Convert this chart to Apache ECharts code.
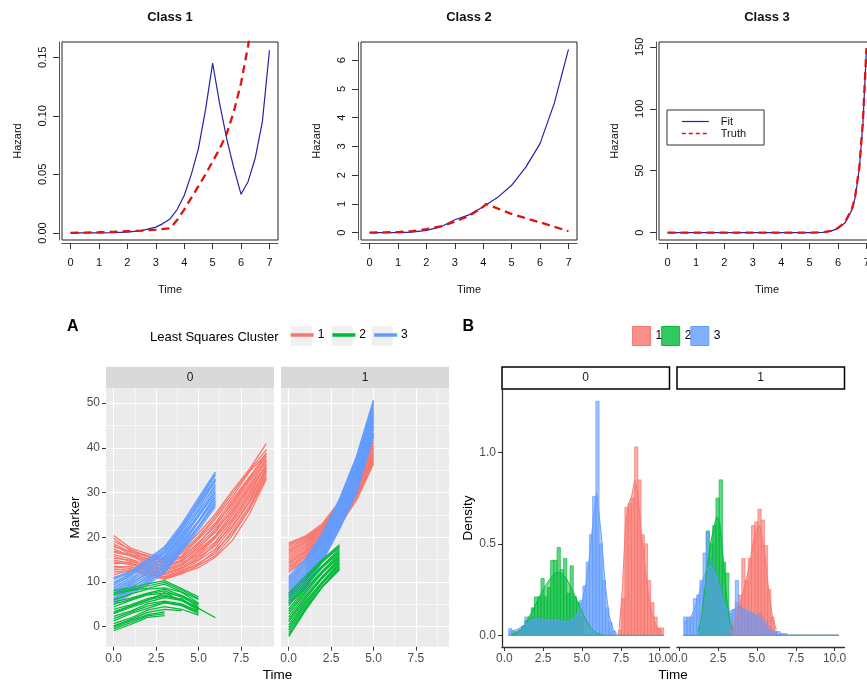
<!DOCTYPE html>
<html><head><meta charset="utf-8"><title>Hazard fits and cluster panels</title>
<script src="https://cdn.jsdelivr.net/npm/echarts@6.0.0/dist/echarts.min.js"></script>
<style>html,body{margin:0;padding:0;background:#fff;}#chart{width:867px;height:684px;}</style>
</head><body><div id="chart"></div>
<script>
// ================= Top row: hazard curves =================
const hazardTicksX = [0, 1, 2, 3, 4, 5, 6, 7];
const class1TicksY = [0, 0.05, 0.10, 0.15];
const class2TicksY = [0, 1, 2, 3, 4, 5, 6];
const class3TicksY = [0, 50, 100, 150];

const class1FitTime = [0,0.5,1,1.5,2,2.5,3,3.25,3.5,3.75,4,4.25,4.5,4.75,5,5.25,5.5,5.75,6,6.25,6.5,6.75,7];
const class1Fit     = [0,0,0,0.0003,0.0008,0.002,0.005,0.008,0.012,0.02,0.032,0.05,0.072,0.105,0.145,0.11,0.08,0.055,0.033,0.044,0.064,0.095,0.156];
const class1TruthTime = [0,0.5,1,1.5,2,2.5,3,3.5,3.75,4,4.25,4.5,4.75,5,5.25,5.5,5.75,6,6.25,6.5];
const class1Truth     = [0,0.0003,0.0006,0.001,0.0015,0.002,0.0028,0.004,0.011,0.02,0.03,0.04,0.05,0.061,0.072,0.085,0.104,0.128,0.16,0.2];

const class2FitTime = [0,0.5,1,1.5,2,2.5,3,3.5,4,4.5,5,5.5,6,6.5,7];
const class2Fit     = [0,0,0,0.02,0.08,0.2,0.45,0.62,0.9,1.22,1.65,2.28,3.1,4.5,6.38];
const class2TruthTime = [0,0.5,1,1.5,2,2.5,3,3.5,4,4.1,5,6,7];
const class2Truth     = [0,0.01,0.02,0.05,0.12,0.22,0.38,0.58,0.9,1.0,0.65,0.36,0.05];

const class3Time  = [0,1,2,3,4,5,5.5,5.75,6,6.25,6.5,6.6,6.75,6.875,7];
const class3Fit   = [0,0,0,0,0,0,0.3,1.2,3.5,8,19,28,52,88,148];
const class3Truth = [0,0,0,0,0,0,0.4,1.4,3.8,8.5,20,29,53,90,149];

// ================= Panel A: marker trajectories =================
const aTicksX = [0, 2.5, 5, 7.5];
const aMinorX = [1.25, 3.75, 6.25, 8.75];
const aTicksY = [0, 10, 20, 30, 40, 50];
const aMinorY = [5, 15, 25, 35, 45];
const aTimes = [0, 1, 2, 3, 4, 5, 6, 7, 8, 9];

const a0Cluster1 = [
 [20.4,17.6,16.3,15.4,17.2,20.9,25.2,30.4,35.2,41.0],
 [19.8,17.0,15.9,15.0,16.8,20.2,24.6,29.8,34.9,39.6],
 [19.1,17.3,15.6,15.1,16.4,19.8,24.1,29.1,34.6,38.6],
 [18.6,16.6,15.7,14.6,15.8,19.6,23.2,28.4,33.5,38.2],
 [18.2,16.2,15.2,14.1,15.3,18.9,22.4,27.9,33.2,38.9],
 [17.9,16.8,14.9,14.4,15.6,18.6,22.9,27.4,32.9,37.8],
 [17.4,15.8,14.8,13.6,14.9,18.3,21.8,26.9,32.4,37.3],
 [16.9,16.2,14.5,13.2,14.4,17.9,21.1,26.3,31.7,36.9],
 [16.6,15.9,14.1,13.5,14.7,17.5,21.6,25.8,31.2,37.1],
 [16.1,15.1,13.9,12.8,14.0,17.1,20.4,25.4,30.8,36.2],
 [15.7,14.6,13.6,12.4,13.6,16.7,20.1,24.9,30.2,35.9],
 [15.3,14.9,13.2,12.7,13.9,16.2,19.9,24.2,29.6,36.4],
 [14.9,14.2,13.1,12.0,13.2,15.9,19.0,23.8,29.2,35.3],
 [14.5,13.9,12.8,11.6,12.8,15.5,18.1,23.3,28.6,34.9],
 [14.1,14.3,12.4,11.9,13.1,15.0,18.6,22.6,28.0,35.6],
 [13.5,13.4,12.5,11.2,12.4,14.8,17.4,22.3,27.7,34.4],
 [13.1,13.5,11.8,11.1,12.5,13.9,17.0,20.9,26.4,34.8],
 [12.7,13.0,12.1,11.0,12.2,14.2,16.4,21.6,26.9,33.8],
 [12.2,12.6,11.9,10.6,11.8,13.7,15.9,20.4,26.2,33.4],
 [11.6,12.7,11.3,10.7,12.0,13.2,15.6,19.3,25.2,33.0]
];
const a0Cluster3 = [
 [11.0,12.4,15.1,17.9,22.9,28.8,34.6],
 [10.8,12.0,14.8,17.6,22.0,28.3,34.2],
 [10.5,12.3,14.4,17.2,22.5,27.9,33.9],
 [9.9,11.9,13.9,16.6,21.9,27.1,32.9],
 [9.7,11.6,14.2,16.8,21.7,27.5,33.1],
 [9.3,11.3,13.5,16.4,21.3,26.5,32.6],
 [8.8,10.9,12.8,15.9,20.8,25.7,31.9],
 [8.5,10.5,13.1,15.6,20.5,26.0,31.4],
 [8.1,10.2,12.4,15.3,20.1,25.1,30.9],
 [7.8,9.8,11.8,14.8,19.7,24.9,30.3],
 [7.4,9.5,12.1,14.5,19.3,24.6,29.9],
 [7.1,9.2,11.4,14.1,18.9,23.7,29.4],
 [6.8,8.9,10.7,13.8,18.5,23.5,29.0],
 [6.4,8.5,11.1,13.4,18.1,23.3,28.5],
 [6.1,8.2,10.4,13.1,17.8,22.5,28.1],
 [5.8,7.9,9.8,12.7,17.4,22.4,27.8],
 [5.5,7.5,10.1,12.4,17.1,22.2,27.4],
 [5.0,7.2,9.4,12.1,16.8,21.6,26.9]
];
const a0Cluster2 = [
 [8.1,8.7,9.6,10.3,8.5,6.7],
 [7.6,8.3,9.1,9.9,8.2,6.3],
 [7.1,8.1,8.6,9.5,7.8,6.1],
 [6.0,7.3,8.4,8.7,7.7,5.3],
 [5.5,6.4,7.5,8.4,7.0,5.1],
 [5.0,6.1,7.3,8.0,6.6,4.8],
 [4.4,5.9,7.1,7.5,6.9,4.4],
 [3.9,4.9,6.3,7.1,6.0,4.3],
 [3.4,4.6,6.0,6.8,6.2,4.0],
 [2.9,4.3,5.5,6.5,5.9,3.7],
 [2.3,3.5,5.1,5.7,5.1,3.5],
 [1.8,3.2,4.6,5.5,4.9,3.2],
 [1.3,2.9,4.1,5.3,4.7,2.9],
 [0.7,1.9,3.7,4.5,3.9,2.6],
 [0.2,1.6,3.2,3.9,3.6],
 [-0.1,1.3,2.7,3.3],
 [-0.5,0.9,2.4,2.9],
 [-0.9,0.5,2.1,2.5],
 [3.1,4.6,5.9,7.6,5.8,4.1,2.0]
];
const a1Cluster1 = [
 [18.7,20.3,23.1,28.1,35.2,43.3],
 [18.4,20.0,22.8,27.8,34.8,42.8],
 [18.1,19.7,22.5,27.6,34.3,42.2],
 [17.7,19.4,22.3,26.9,33.9,41.7],
 [17.3,19.1,22.0,26.7,33.5,41.2],
 [16.9,18.8,21.7,26.6,33.1,40.7],
 [16.5,18.5,21.5,25.9,32.7,40.4],
 [16.1,18.1,21.2,25.7,32.3,40.0],
 [15.7,17.8,20.9,25.6,31.9,39.6],
 [15.3,17.5,20.7,24.9,31.5,39.2],
 [14.9,17.1,20.4,24.7,31.1,38.8],
 [14.5,16.8,20.1,24.6,30.7,38.4],
 [14.1,16.5,19.9,23.9,30.3,38.1],
 [13.7,16.1,19.6,23.7,29.9,37.8],
 [13.3,15.8,19.3,23.6,29.5,37.4],
 [12.9,15.5,19.1,22.9,29.1,37.1],
 [12.5,15.1,18.8,22.8,28.7,36.7],
 [12.1,14.8,18.5,22.6,28.3,36.4]
];
const a1Cluster3 = [
 [11.2,15.1,21.0,28.6,38.1,50.7],
 [10.8,14.7,20.7,28.2,37.6,50.3],
 [10.5,14.3,20.4,27.9,37.2,49.9],
 [10.1,13.9,19.9,27.3,36.7,49.3],
 [9.7,13.5,19.5,26.9,36.2,48.8],
 [9.4,13.1,19.2,26.6,35.7,48.3],
 [9.0,12.7,18.8,26.1,35.1,47.8],
 [8.6,12.3,18.4,25.7,34.6,47.3],
 [8.3,11.9,18.1,25.4,34.2,46.9],
 [7.9,11.5,17.7,24.9,33.7,46.4],
 [7.5,11.1,17.3,24.5,33.2,45.9],
 [7.2,10.7,16.9,24.2,32.7,45.5],
 [6.8,10.3,16.5,23.7,32.1,44.9],
 [6.4,9.9,16.1,23.3,31.6,44.5],
 [6.1,9.5,15.8,23.0,31.2,44.1],
 [5.6,9.1,15.3,22.5,30.6,43.3],
 [5.3,8.7,15.0,22.1,30.2,42.9],
 [5.0,8.4,14.7,21.8,29.9,42.5]
];
const a1Cluster2 = [
 [7.5,11.3,15.1,18.3],
 [7.0,10.8,14.8,18.0],
 [6.5,10.4,14.5,17.7],
 [5.8,9.9,13.7,17.3],
 [5.2,9.4,13.5,16.9],
 [4.7,9.0,13.3,16.6],
 [4.0,8.5,12.5,16.3],
 [3.5,8.0,12.3,15.9],
 [2.9,7.6,12.1,15.6],
 [2.2,7.1,11.3,15.3],
 [1.6,6.6,11.1,15.0],
 [1.1,6.2,10.9,14.6],
 [0.4,5.7,10.1,14.3],
 [-0.2,5.3,9.9,14.0],
 [-0.7,4.8,9.7,13.6],
 [-1.3,4.4,9.1,13.3],
 [-1.8,4.0,9.0,13.0],
 [-2.2,3.7,9.0,12.7]
];

// ================= Panel B: histograms + densities =================
const bTicksX = [0, 2.5, 5, 7.5, 10];
const bTicksY = [0, 0.5, 1.0];
const bBinStart = 0.28;
const bBinWidth = 0.208;
// 48 bins per group and facet (density heights)
const bF0Cluster1 = [0,0,0,0,0,0,0,0,0,0, 0,0,0,0,0,0,0,0,0,0, 0,0,0,0,0,0,0,0,0,0, 0,0,0,0,0.03,0.2,0.7,0.72,0.75,1.03, 0.85,0.55,0.5,0.3,0.18,0.1,0.04,0.04];
const bF0Cluster2 = [0,0.02,0.02,0.03,0.05,0.08,0.1,0.15,0.21,0.21, 0.31,0.21,0.26,0.41,0.41,0.48,0.36,0.42,0.23,0.38, 0.21,0.18,0.1,0,0,0,0,0,0,0, 0,0,0,0,0,0,0,0,0,0, 0,0,0,0,0,0,0,0];
const bF0Cluster3 = [0.036,0,0,0.02,0.036,0.1,0.07,0.1,0.09,0.1, 0.07,0.09,0.08,0.09,0.07,0.09,0.08,0.07,0.1,0.08, 0.09,0.12,0.19,0.27,0.4,0.55,0.76,1.28,0.5,0.3, 0.15,0.07,0.02,0,0,0,0,0,0,0, 0,0,0,0,0,0,0,0];
const bF1Cluster1 = [0,0,0,0,0,0,0,0,0,0, 0,0,0,0,0.02,0.05,0.18,0.22,0.42,0.3, 0.42,0.6,0.62,0.69,0.63,0.49,0.25,0.1,0.02,0, 0,0,0,0,0,0,0,0,0,0, 0,0,0,0,0,0,0,0];
const bF1Cluster2 = [0,0,0,0,0,0.05,0.25,0.57,0.5,0.6, 0.75,0.85,0.4,0.34,0,0,0,0,0,0, 0,0,0,0,0,0,0,0,0,0, 0,0,0,0,0,0,0,0,0,0, 0,0,0,0,0,0,0,0];
const bF1Cluster3 = [0.1,0.1,0.1,0.2,0.22,0.3,0.45,0.57,0.42,0.38, 0.33,0.28,0.2,0.15,0.12,0.14,0.3,0.16,0.14,0.13, 0.12,0.12,0.11,0.12,0.1,0.08,0.05,0.03,0.02,0.02, 0.01,0.01,0,0,0,0,0,0,0,0, 0,0,0,0,0,0,0,0];

const bDensF0C1x = [7.4,7.6,7.8,8.0,8.2,8.4,8.5,8.6,8.8,9.0,9.2,9.4,9.6,9.8,10.0,10.15];
const bDensF0C1y = [0.04,0.25,0.6,0.72,0.76,0.85,0.86,0.78,0.58,0.42,0.27,0.16,0.09,0.05,0.03,0.02];
const bDensF0C2x = [0.5,0.75,1.0,1.25,1.5,1.75,2.0,2.25,2.5,2.75,3.0,3.25,3.5,3.75,4.0,4.25,4.5,4.75,5.0,5.25,5.5,5.75,6.0,6.25];
const bDensF0C2y = [0.005,0.01,0.025,0.05,0.085,0.125,0.165,0.21,0.25,0.285,0.315,0.34,0.345,0.335,0.31,0.27,0.225,0.18,0.13,0.085,0.05,0.025,0.01,0.004];
const bDensF0C3x = [0.34,0.5,0.75,1.0,1.25,1.5,1.75,2.0,2.25,2.5,2.75,3.0,3.25,3.5,3.75,4.0,4.25,4.5,4.75,5.0,5.25,5.5,5.75,5.95,6.25,6.5,6.75,7.0,7.25];
const bDensF0C3y = [0.02,0.025,0.03,0.04,0.055,0.07,0.08,0.088,0.09,0.088,0.083,0.082,0.085,0.082,0.075,0.075,0.08,0.095,0.125,0.18,0.28,0.44,0.65,0.78,0.55,0.28,0.11,0.035,0.01];
const bDensF1C1x = [3.2,3.5,3.75,4.0,4.25,4.5,4.75,5.0,5.15,5.25,5.5,5.75,6.0,6.25];
const bDensF1C1y = [0.02,0.06,0.13,0.2,0.28,0.38,0.5,0.58,0.6,0.58,0.45,0.25,0.1,0.03];
const bDensF1C2x = [1.2,1.4,1.6,1.8,2.0,2.2,2.4,2.5,2.6,2.8,3.0,3.2,3.4];
const bDensF1C2y = [0.02,0.08,0.22,0.38,0.5,0.58,0.65,0.66,0.62,0.45,0.25,0.1,0.03];
const bDensF1C3x = [0.3,0.5,0.75,1.0,1.25,1.5,1.75,2.0,2.25,2.5,2.75,3.0,3.25,3.5,3.75,4.0,4.25,4.5,4.75,5.0,5.25,5.5,5.75,6.0,6.25,6.5,6.85];
const bDensF1C3y = [0.07,0.08,0.1,0.15,0.22,0.3,0.36,0.38,0.35,0.28,0.2,0.15,0.13,0.14,0.155,0.15,0.14,0.13,0.12,0.1,0.08,0.055,0.03,0.015,0.007,0.003,0];

// ================= Build chart =================
const FONT = "'Liberation Sans', Arial, Helvetica, sans-serif";
const RED = '#F8766D', GREEN = '#00BA38', BLUE = '#619CFF';
function rgba(hex, a) {
  const n = parseInt(hex.slice(1), 16);
  return 'rgba(' + (n >> 16 & 255) + ',' + (n >> 8 & 255) + ',' + (n & 255) + ',' + a + ')';
}
function pairs(xs, ys) { return xs.map((x, i) => [x, ys[i]]); }

function rX(g) {
  return {gridIndex: g, type: 'value', min: -0.3, max: 7.3, offset: 3,
    axisLine: {show: true, onZero: false, lineStyle: {color: '#555', width: 1}}, splitLine: {show: false},
    axisTick: {show: true, inside: false, length: 6, lineStyle: {color: '#333', width: 1}, customValues: hazardTicksX},
    axisLabel: {customValues: hazardTicksX, margin: 14, fontSize: 11, color: '#111', fontFamily: FONT},
    name: 'Time', nameLocation: 'middle', nameGap: 41,
    nameTextStyle: {fontSize: 11, color: '#111', fontFamily: FONT}};
}
function rY(g, min, max, ticks, fmt) {
  return {gridIndex: g, type: 'value', min: min, max: max, offset: 3,
    axisLine: {show: true, onZero: false, lineStyle: {color: '#555', width: 1}}, splitLine: {show: false},
    axisTick: {show: true, inside: false, length: 6, lineStyle: {color: '#333', width: 1}, customValues: ticks},
    axisLabel: {customValues: ticks, rotate: 90, margin: 11, fontSize: 11, color: '#111', fontFamily: FONT, formatter: fmt},
    name: 'Hazard', nameLocation: 'middle', nameGap: 36,
    nameTextStyle: {fontSize: 11, color: '#111', fontFamily: FONT}};
}
function aX(g) {
  return {gridIndex: g, type: 'value', min: -0.45, max: 9.45,
    axisLine: {show: false, onZero: false},
    splitLine: {show: true, lineStyle: {color: '#FFFFFF', width: 1.1}},
    axisTick: {show: true, inside: false, length: 4, lineStyle: {color: '#333'}, customValues: aTicksX},
    axisLabel: {customValues: aTicksX, margin: 6, fontSize: 12, color: '#4D4D4D', fontFamily: FONT,
      formatter: v => v.toFixed(1)}};
}
function aXMinor(g) {
  return {gridIndex: g, type: 'value', min: -0.45, max: 9.45, position: 'top',
    axisLine: {show: false, onZero: false}, axisLabel: {show: false},
    axisTick: {show: false, customValues: aMinorX},
    splitLine: {show: true, lineStyle: {color: '#FFFFFF', width: 0.55}}};
}
function aY(g, withLabels) {
  return {gridIndex: g, type: 'value', min: -4.47, max: 53.3,
    axisLine: {show: false, onZero: false},
    splitLine: {show: true, lineStyle: {color: '#FFFFFF', width: 1.1}},
    axisTick: {show: withLabels, inside: false, length: 4, lineStyle: {color: '#333'}, customValues: aTicksY},
    axisLabel: {show: withLabels, customValues: aTicksY, margin: 6, fontSize: 12, color: '#4D4D4D', fontFamily: FONT},
    name: withLabels ? 'Marker' : '', nameLocation: 'middle', nameGap: 24,
    nameTextStyle: {fontSize: 13.5, color: '#000', fontFamily: FONT}};
}
function aYMinor(g) {
  return {gridIndex: g, type: 'value', min: -4.47, max: 53.3, position: 'right',
    axisLine: {show: false, onZero: false}, axisLabel: {show: false},
    axisTick: {show: false, customValues: aMinorY},
    splitLine: {show: true, lineStyle: {color: '#FFFFFF', width: 0.55}}};
}
function bX(g) {
  return {gridIndex: g, type: 'value', min: -0.15, max: 10.64,
    axisLine: {show: true, onZero: false, lineStyle: {color: '#333', width: 1.3}},
    splitLine: {show: false},
    axisTick: {show: true, inside: false, length: 4, lineStyle: {color: '#333'}, customValues: bTicksX},
    axisLabel: {customValues: bTicksX, margin: 6, fontSize: 12, color: '#4D4D4D', fontFamily: FONT,
      formatter: v => v.toFixed(1)}};
}
function bY(g, withAxis) {
  return {gridIndex: g, type: 'value', min: -0.064, max: 1.347,
    axisLine: {show: withAxis, onZero: false, lineStyle: {color: '#333', width: 1.3}},
    splitLine: {show: false},
    axisTick: {show: withAxis, inside: false, length: 4, lineStyle: {color: '#333'}, customValues: bTicksY},
    axisLabel: {show: withAxis, customValues: bTicksY, margin: 6, fontSize: 12, color: '#4D4D4D', fontFamily: FONT,
      formatter: v => v.toFixed(1)},
    name: withAxis ? 'Density' : '', nameLocation: 'middle', nameGap: 27,
    nameTextStyle: {fontSize: 13.5, color: '#000', fontFamily: FONT}};
}

function hazardSeries(idx, fitT, fit, truthT, truth) {
  return [
    {name: 'Fit', type: 'line', xAxisIndex: idx, yAxisIndex: idx, data: pairs(fitT, fit),
     symbol: 'none', silent: true, itemStyle: {color: '#2424A8'}, lineStyle: {color: '#2424A8', width: 1.2}, z: 3},
    {name: 'Truth', type: 'line', xAxisIndex: idx, yAxisIndex: idx, data: pairs(truthT, truth),
     symbol: 'none', silent: true, itemStyle: {color: '#E01212'}, lineStyle: {color: '#E01212', width: 2.3, type: [8, 5]}, z: 4}
  ];
}
function trajSeries(name, idx, lines, color) {
  return {name: name, type: 'lines', coordinateSystem: 'cartesian2d', xAxisIndex: idx, yAxisIndex: idx,
    polyline: true, silent: true, z: 3,
    lineStyle: {color: color, width: 1.25, opacity: 1},
    data: lines.map(v => ({coords: v.map((y, i) => [aTimes[i], y])}))};
}
function histSeries(name, idx, heights, color) {
  const fill = rgba(color, 0.6), stroke = rgba(color, 0.85);
  return {name: name, type: 'custom', coordinateSystem: 'cartesian2d', xAxisIndex: idx, yAxisIndex: idx,
    silent: true, z: 2, itemStyle: {color: fill},
    data: heights.map((h, k) => [bBinStart + k * bBinWidth, bBinStart + (k + 1) * bBinWidth, h]),
    encode: {x: [0, 1], y: 2},
    renderItem: function (params, api) {
      const a = api.coord([api.value(0), api.value(2)]);
      const b = api.coord([api.value(1), 0]);
      return {type: 'rect', shape: {x: a[0], y: a[1], width: b[0] - a[0], height: b[1] - a[1]},
        style: {fill: fill, stroke: stroke, lineWidth: 0.8}};
    }};
}
function densSeries(name, idx, xs, ys, color) {
  return {name: name, type: 'line', xAxisIndex: idx, yAxisIndex: idx, data: pairs(xs, ys),
    symbol: 'none', silent: true, z: 2,
    lineStyle: {color: rgba(color, 0.9), width: 1},
    areaStyle: {color: rgba(color, 0.5), opacity: 1}};
}

const gridBase = {containLabel: false, outerBoundsMode: 'none'};
const noSymbol = {color: 'rgba(0,0,0,0)', borderColor: 'rgba(0,0,0,0)', borderWidth: 0, opacity: 0};
const option = {
  animation: false,
  backgroundColor: '#FFFFFF',
  textStyle: {fontFamily: FONT},
  grid: [
    Object.assign({left: 62, top: 42, width: 216, height: 198, show: true, borderColor: '#222', borderWidth: 1, backgroundColor: '#fff'}, gridBase),
    Object.assign({left: 361, top: 42, width: 216, height: 198, show: true, borderColor: '#222', borderWidth: 1, backgroundColor: '#fff'}, gridBase),
    Object.assign({left: 659, top: 42, width: 216, height: 198, show: true, borderColor: '#222', borderWidth: 1, backgroundColor: '#fff'}, gridBase),
    Object.assign({left: 106, top: 388.3, width: 168, height: 258.4, show: true, backgroundColor: '#EBEBEB', borderWidth: 0}, gridBase),
    Object.assign({left: 281, top: 388.3, width: 168, height: 258.4, show: true, backgroundColor: '#EBEBEB', borderWidth: 0}, gridBase),
    Object.assign({left: 502, top: 389, width: 167.5, height: 258}, gridBase),
    Object.assign({left: 677, top: 389, width: 167.5, height: 258}, gridBase)
  ],
  xAxis: [rX(0), rX(1), rX(2), aX(3), aX(4), bX(5), bX(6), aXMinor(3), aXMinor(4)],
  yAxis: [
    rY(0, -0.006, 0.163, class1TicksY, v => v.toFixed(2)),
    rY(1, -0.255, 6.635, class2TicksY, v => String(v)),
    rY(2, -5.92, 153.9, class3TicksY, v => String(v)),
    aY(3, true), aY(4, false), bY(5, true), bY(6, false), aYMinor(3), aYMinor(4)
  ],
  legend: [
    {data: [
       {name: 'Fit', itemStyle: noSymbol, lineStyle: {color: '#2424A8', width: 1.2}},
       {name: 'Truth', itemStyle: noSymbol, lineStyle: {color: '#E01212', type: [4, 3], width: 1.6}}],
     orient: 'vertical', left: 667, top: 110, itemWidth: 27, itemHeight: 10, itemGap: 1,
     itemStyle: noSymbol,
     padding: [6, 18, 6, 14], borderColor: '#333', borderWidth: 1, backgroundColor: '#fff',
     selectedMode: false, textStyle: {fontSize: 11, color: '#111', fontFamily: FONT, padding: [0, 0, 0, 7]}},
    {data: [{name: '1', itemStyle: {color: RED}}, {name: '2', itemStyle: {color: GREEN}}, {name: '3', itemStyle: {color: BLUE}}],
     left: 290.7, top: 329, padding: 0, icon: 'rect', itemWidth: 21, itemHeight: 1.5, itemGap: 8,
     selectedMode: false, textStyle: {fontSize: 12, color: '#000', fontFamily: FONT}},
    {data: [
       {name: 'B1', itemStyle: {color: rgba(RED, 0.8), borderColor: RED, borderWidth: 1}},
       {name: 'B2', itemStyle: {color: rgba(GREEN, 0.8), borderColor: GREEN, borderWidth: 1}},
       {name: 'B3', itemStyle: {color: rgba(BLUE, 0.8), borderColor: BLUE, borderWidth: 1}}],
     left: 632, top: 326, padding: 0, icon: 'rect', itemWidth: 18, itemHeight: 19, itemGap: -1,
     selectedMode: false, formatter: n => n.replace('B', ''),
     textStyle: {fontSize: 12, color: '#000', fontFamily: FONT}}
  ],
  graphic: {elements: [
    {type: 'text', x: 170, y: 17, style: {text: 'Class 1', font: 'bold 13px ' + FONT, fill: '#111', textAlign: 'center', textVerticalAlign: 'middle'}},
    {type: 'text', x: 469, y: 17, style: {text: 'Class 2', font: 'bold 13px ' + FONT, fill: '#111', textAlign: 'center', textVerticalAlign: 'middle'}},
    {type: 'text', x: 767, y: 17, style: {text: 'Class 3', font: 'bold 13px ' + FONT, fill: '#111', textAlign: 'center', textVerticalAlign: 'middle'}},
    {type: 'text', x: 72.7, y: 327, style: {text: 'A', font: 'bold 16px ' + FONT, fill: '#000', textAlign: 'center', textVerticalAlign: 'middle'}},
    {type: 'text', x: 468.3, y: 327, style: {text: 'B', font: 'bold 16px ' + FONT, fill: '#000', textAlign: 'center', textVerticalAlign: 'middle'}},
    {type: 'text', x: 150, y: 337, style: {text: 'Least Squares Cluster', font: '13px ' + FONT, fill: '#000', textAlign: 'left', textVerticalAlign: 'middle'}},
    {type: 'rect', shape: {x: 290.7, y: 326, width: 21, height: 20}, style: {fill: '#F0F0F0'}},
    {type: 'rect', shape: {x: 331.7, y: 326, width: 21, height: 20}, style: {fill: '#F0F0F0'}},
    {type: 'rect', shape: {x: 371.7, y: 326, width: 21, height: 20}, style: {fill: '#F0F0F0'}},
    {type: 'rect', shape: {x: 106, y: 366.7, width: 168, height: 21.6}, style: {fill: '#D9D9D9'}},
    {type: 'rect', shape: {x: 281, y: 366.7, width: 168, height: 21.6}, style: {fill: '#D9D9D9'}},
    {type: 'text', x: 190, y: 378, style: {text: '0', font: '12px ' + FONT, fill: '#1A1A1A', textAlign: 'center', textVerticalAlign: 'middle'}},
    {type: 'text', x: 365, y: 378, style: {text: '1', font: '12px ' + FONT, fill: '#1A1A1A', textAlign: 'center', textVerticalAlign: 'middle'}},
    {type: 'rect', shape: {x: 502, y: 367, width: 167.5, height: 22}, style: {fill: '#fff', stroke: '#000', lineWidth: 1.5}},
    {type: 'rect', shape: {x: 677, y: 367, width: 167.5, height: 22}, style: {fill: '#fff', stroke: '#000', lineWidth: 1.5}},
    {type: 'text', x: 585.7, y: 378, style: {text: '0', font: '12px ' + FONT, fill: '#1A1A1A', textAlign: 'center', textVerticalAlign: 'middle'}},
    {type: 'text', x: 760.7, y: 378, style: {text: '1', font: '12px ' + FONT, fill: '#1A1A1A', textAlign: 'center', textVerticalAlign: 'middle'}},
    {type: 'text', x: 277.5, y: 675, style: {text: 'Time', font: '13.5px ' + FONT, fill: '#000', textAlign: 'center', textVerticalAlign: 'middle'}},
    {type: 'text', x: 673, y: 675, style: {text: 'Time', font: '13.5px ' + FONT, fill: '#000', textAlign: 'center', textVerticalAlign: 'middle'}}
  ]},
  series: [].concat(
    hazardSeries(0, class1FitTime, class1Fit, class1TruthTime, class1Truth),
    hazardSeries(1, class2FitTime, class2Fit, class2TruthTime, class2Truth),
    hazardSeries(2, class3Time, class3Fit, class3Time, class3Truth),
    [
      trajSeries('1', 3, a0Cluster1, RED), trajSeries('3', 3, a0Cluster3, BLUE), trajSeries('2', 3, a0Cluster2, GREEN),
      trajSeries('1', 4, a1Cluster1, RED), trajSeries('3', 4, a1Cluster3, BLUE), trajSeries('2', 4, a1Cluster2, GREEN),
      histSeries('B1', 5, bF0Cluster1, RED), histSeries('B2', 5, bF0Cluster2, GREEN), histSeries('B3', 5, bF0Cluster3, BLUE),
      densSeries('B1', 5, bDensF0C1x, bDensF0C1y, RED), densSeries('B2', 5, bDensF0C2x, bDensF0C2y, GREEN), densSeries('B3', 5, bDensF0C3x, bDensF0C3y, BLUE),
      histSeries('B1', 6, bF1Cluster1, RED), histSeries('B2', 6, bF1Cluster2, GREEN), histSeries('B3', 6, bF1Cluster3, BLUE),
      densSeries('B1', 6, bDensF1C1x, bDensF1C1y, RED), densSeries('B2', 6, bDensF1C2x, bDensF1C2y, GREEN), densSeries('B3', 6, bDensF1C3x, bDensF1C3y, BLUE)
    ]
  )
};
const chart = echarts.init(document.getElementById('chart'), null, {renderer: 'canvas'});
chart.setOption(option);
</script></body></html>
